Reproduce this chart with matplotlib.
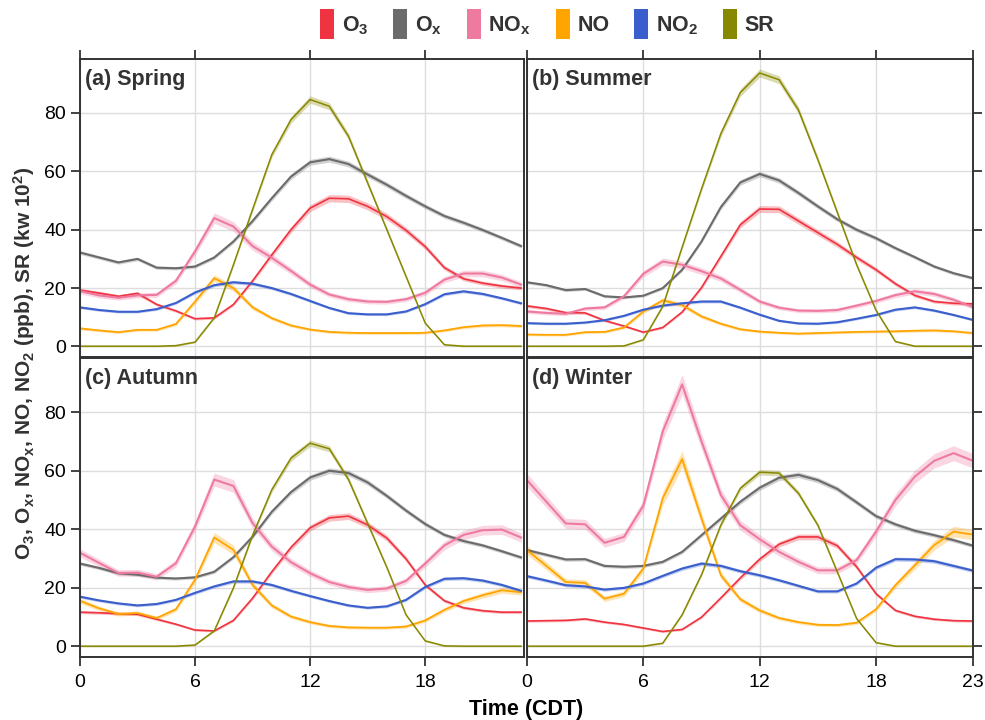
import numpy as np
import matplotlib
matplotlib.use('Agg')
import matplotlib.pyplot as plt
from matplotlib.patches import Patch

plt.rcParams['font.family'] = ['Liberation Sans', 'DejaVu Sans']
plt.rcParams['mathtext.fontset'] = 'custom'
plt.rcParams['mathtext.rm'] = 'Liberation Sans'
plt.rcParams['mathtext.bf'] = 'Liberation Sans:bold'
plt.rcParams['mathtext.default'] = 'bf'

hours = np.arange(24)

# diurnal means per season (ppb; SR in kW 10^2)
spring_o3 = [19.3, 18.3, 17.2, 18.2, 14.4, 12.2, 9.5, 9.8, 14.4, 22.5, 31.4, 40.0,
             47.4, 50.8, 50.6, 48.0, 44.5, 39.8, 34.2, 27.0, 23.2, 21.7, 20.7, 20.0]
spring_ox = [32.2, 30.5, 28.8, 30.0, 27.0, 26.8, 27.4, 30.5, 36.0, 43.0, 50.8, 58.2,
             63.1, 64.2, 62.5, 58.9, 55.4, 51.6, 48.0, 44.7, 42.4, 39.9, 37.2, 34.4]
spring_nox = [19.0, 17.5, 16.7, 17.5, 17.7, 22.5, 32.6, 44.0, 41.1, 34.4, 30.4, 25.9,
              21.2, 17.8, 16.2, 15.4, 15.3, 16.2, 18.4, 22.9, 25.0, 25.0, 23.6, 21.2]
spring_no = [6.2, 5.5, 4.9, 5.7, 5.7, 7.7, 15.4, 23.4, 20.0, 13.4, 9.7, 7.2,
             5.8, 5.0, 4.7, 4.6, 4.6, 4.6, 4.7, 5.5, 6.6, 7.2, 7.3, 7.0]
spring_no2 = [13.4, 12.5, 11.9, 11.9, 12.8, 14.9, 18.5, 21.0, 22.0, 21.5, 20.0, 18.0,
              15.6, 13.2, 11.4, 11.0, 11.0, 12.0, 14.5, 17.9, 18.9, 18.0, 16.5, 14.8]
spring_sr = [0.1, 0.1, 0.1, 0.1, 0.1, 0.3, 1.5, 9.8, 28.0, 47.0, 65.7, 77.7,
             84.6, 82.3, 72.0, 56.0, 40.0, 24.0, 8.0, 0.6, 0.1, 0.1, 0.1, 0.1]

summer_o3 = [13.9, 13.0, 11.6, 11.5, 8.9, 7.0, 4.9, 6.5, 11.8, 20.2, 30.9, 41.7,
             47.1, 47.0, 43.0, 39.0, 35.0, 30.5, 26.3, 21.5, 17.5, 15.4, 14.8, 14.6]
summer_ox = [22.0, 21.0, 19.3, 19.7, 17.2, 16.8, 17.4, 20.0, 26.3, 36.0, 47.8, 56.2,
             59.1, 56.9, 52.6, 48.0, 43.6, 40.0, 37.1, 33.7, 30.6, 27.4, 25.1, 23.4]
summer_nox = [12.0, 11.5, 11.2, 13.0, 13.4, 17.2, 24.9, 29.1, 28.0, 25.8, 23.3, 19.4,
              15.4, 13.3, 12.3, 12.2, 12.5, 14.0, 15.6, 17.6, 18.9, 18.0, 16.0, 13.5]
summer_no = [4.1, 4.0, 4.0, 4.9, 5.0, 6.5, 12.0, 15.8, 14.2, 10.3, 7.8, 5.9,
             5.1, 4.7, 4.4, 4.6, 4.8, 5.0, 5.1, 5.2, 5.4, 5.5, 5.2, 4.6]
summer_no2 = [8.0, 7.8, 7.8, 8.2, 9.0, 10.5, 12.6, 14.0, 14.8, 15.4, 15.4, 13.3,
              10.9, 8.8, 7.9, 7.8, 8.3, 9.5, 10.8, 12.6, 13.4, 12.3, 10.8, 9.1]
summer_sr = [0.1, 0.1, 0.1, 0.1, 0.1, 0.2, 2.3, 13.7, 34.0, 54.0, 73.0, 87.0,
             93.7, 91.4, 81.0, 64.0, 46.0, 28.0, 12.4, 1.7, 0.1, 0.1, 0.1, 0.1]

autumn_o3 = [11.7, 11.5, 11.2, 11.0, 9.3, 7.6, 5.6, 5.3, 8.9, 16.5, 25.5, 33.8,
             40.5, 43.9, 44.5, 41.5, 37.0, 29.9, 21.0, 15.6, 13.2, 12.2, 11.7, 11.7]
autumn_ox = [28.3, 26.8, 25.0, 24.5, 23.5, 23.2, 23.6, 25.5, 30.5, 37.5, 46.0, 52.7,
             57.7, 60.0, 59.2, 56.0, 51.4, 46.4, 41.8, 38.1, 36.0, 34.5, 32.5, 30.4]
autumn_nox = [32.0, 28.5, 25.1, 25.2, 23.8, 28.4, 41.0, 57.0, 54.8, 42.1, 34.1, 28.8,
              25.0, 22.0, 20.3, 19.3, 19.8, 22.4, 28.3, 34.5, 38.1, 39.7, 39.9, 37.2]
autumn_no = [15.6, 13.0, 11.1, 11.4, 9.7, 12.7, 22.8, 37.2, 33.0, 21.0, 14.0, 10.2,
             8.3, 7.0, 6.5, 6.4, 6.4, 6.8, 8.9, 12.5, 15.5, 17.5, 19.2, 18.5]
autumn_no2 = [17.0, 15.7, 14.7, 14.0, 14.5, 15.9, 18.3, 20.5, 22.2, 22.2, 21.0, 19.0,
              17.2, 15.5, 14.0, 13.2, 13.7, 15.9, 20.3, 23.1, 23.3, 22.5, 21.0, 19.0]
autumn_sr = [0.1, 0.1, 0.1, 0.1, 0.1, 0.1, 0.5, 5.3, 20.0, 38.0, 53.5, 64.3,
             69.4, 67.5, 57.0, 42.0, 27.0, 10.8, 1.9, 0.2, 0.1, 0.1, 0.1, 0.1]

winter_o3 = [8.7, 8.8, 8.9, 9.4, 8.3, 7.5, 6.3, 5.1, 5.8, 10.0, 16.6, 23.4,
             29.8, 34.9, 37.4, 37.4, 34.4, 27.2, 18.0, 12.3, 10.3, 9.3, 8.8, 8.7]
winter_ox = [32.9, 31.3, 29.7, 29.8, 27.5, 27.2, 27.5, 28.9, 32.3, 38.0, 43.7, 49.4,
             54.2, 57.6, 58.6, 56.8, 53.8, 49.2, 44.5, 41.7, 39.5, 38.0, 36.3, 34.4]
winter_nox = [56.8, 49.4, 42.0, 41.7, 35.4, 37.4, 48.1, 73.4, 89.5, 70.0, 51.7, 41.4,
              36.6, 32.3, 28.9, 26.0, 26.0, 29.5, 39.2, 50.0, 58.0, 63.4, 66.0, 63.4]
winter_no = [32.9, 27.5, 22.0, 21.7, 16.3, 18.0, 26.6, 50.6, 64.0, 43.7, 24.3, 16.1,
             12.3, 9.7, 8.3, 7.4, 7.3, 8.1, 12.7, 20.9, 27.7, 34.6, 39.2, 38.2]
winter_no2 = [24.0, 22.5, 20.9, 20.5, 19.4, 20.0, 21.5, 24.1, 26.6, 28.3, 27.5, 25.7,
              24.3, 22.6, 20.7, 18.8, 18.8, 21.5, 26.9, 29.8, 29.7, 29.1, 27.5, 25.9]
winter_sr = [0.1, 0.1, 0.1, 0.1, 0.1, 0.1, 0.1, 1.1, 10.8, 24.5, 41.5, 54.0,
             59.5, 59.2, 52.3, 41.4, 25.5, 9.5, 1.3, 0.1, 0.1, 0.1, 0.1, 0.1]

species = ['O3', 'Ox', 'NOx', 'NO', 'NO2', 'SR']
labels = ['O$_3$', 'O$_x$', 'NO$_x$', 'NO', 'NO$_2$', 'SR']
colors = ['#ef3340', '#6b6b6b', '#ef7aa0', '#ffa500', '#3a5fcd', '#888800']
widths = [1.2, 1.5, 1.5, 1.3, 1.5, 1.1]
rel_err = [0.02, 0.012, 0.035, 0.04, 0.015, 0.012]

seasons = [
    ('(a) Spring', [spring_o3, spring_ox, spring_nox, spring_no, spring_no2, spring_sr]),
    ('(b) Summer', [summer_o3, summer_ox, summer_nox, summer_no, summer_no2, summer_sr]),
    ('(c) Autumn', [autumn_o3, autumn_ox, autumn_nox, autumn_no, autumn_no2, autumn_sr]),
    ('(d) Winter', [winter_o3, winter_ox, winter_nox, winter_no, winter_no2, winter_sr]),
]

W, H = 985, 720
fig = plt.figure(figsize=(W / 100, H / 100), dpi=100)

# panel boxes in pixels: (left, top, right, bottom)
boxes = [(80, 59, 524, 357), (527, 59, 973, 357),
         (80, 358, 524, 657), (527, 358, 973, 657)]
ink = '#333333'

for i, ((title, series), (l, t, r, b)) in enumerate(zip(seasons, boxes)):
    ax = fig.add_axes([l / W, 1 - b / H, (r - l) / W, (b - t) / H])
    left_col = i % 2 == 0
    top_row = i < 2
    for vals, c, lw, re in zip(series, colors, widths, rel_err):
        v = np.array(vals)
        band = re * v + 0.25
        ax.fill_between(hours, v - band, v + band, color=c, alpha=0.3, lw=0)
        ax.plot(hours, v, color=c, lw=lw)
    ax.set_xlim(0, 23.15 if left_col else 23)
    ax.set_ylim(-3.6, 98.5)
    ax.set_xticks([0, 6, 12, 18] if left_col else [0, 6, 12, 18, 23])
    ax.set_yticks([0, 20, 40, 60, 80])
    ax.grid(True, color='#dddddd', lw=1)
    ax.set_axisbelow(True)
    for s in ax.spines.values():
        s.set_color(ink)
        s.set_linewidth(1.4)
    ax.tick_params(direction='out', length=6.5, width=1.3, color=ink,
                   labelsize=14, labelcolor='black',
                   left=left_col, right=not left_col,
                   labelleft=left_col, labelright=False,
                   top=top_row, bottom=not top_row,
                   labeltop=False, labelbottom=not top_row)
    ax.tick_params(axis='x', pad=6)
    ax.text(0.012, 0.965, title, transform=ax.transAxes, ha='left', va='top',
            fontsize=15.5, fontweight='bold', color=ink)

handles = [Patch(facecolor=c, edgecolor='none') for c in colors]
fig.legend(handles, labels, loc='center', bbox_to_anchor=(547 / W, 1 - 24 / H),
           ncol=6, frameon=False, handlelength=0.65, handleheight=1.7,
           handletextpad=0.35, columnspacing=1.15,
           prop={'size': 15.5, 'weight': 'bold'}, labelcolor=ink)

fig.text(0.024, 0.495, 'O$_3$, O$_x$, NO$_x$, NO, NO$_2$ (ppb), SR (kw 10$^2$)',
         rotation=90, ha='center', va='center', fontsize=15, fontweight='bold', color=ink)
fig.text(526 / W, 1 - 709 / H, 'Time (CDT)', ha='center', va='center',
         fontsize=15.5, fontweight='bold', color='black')

fig.savefig('out.png', dpi=100)
